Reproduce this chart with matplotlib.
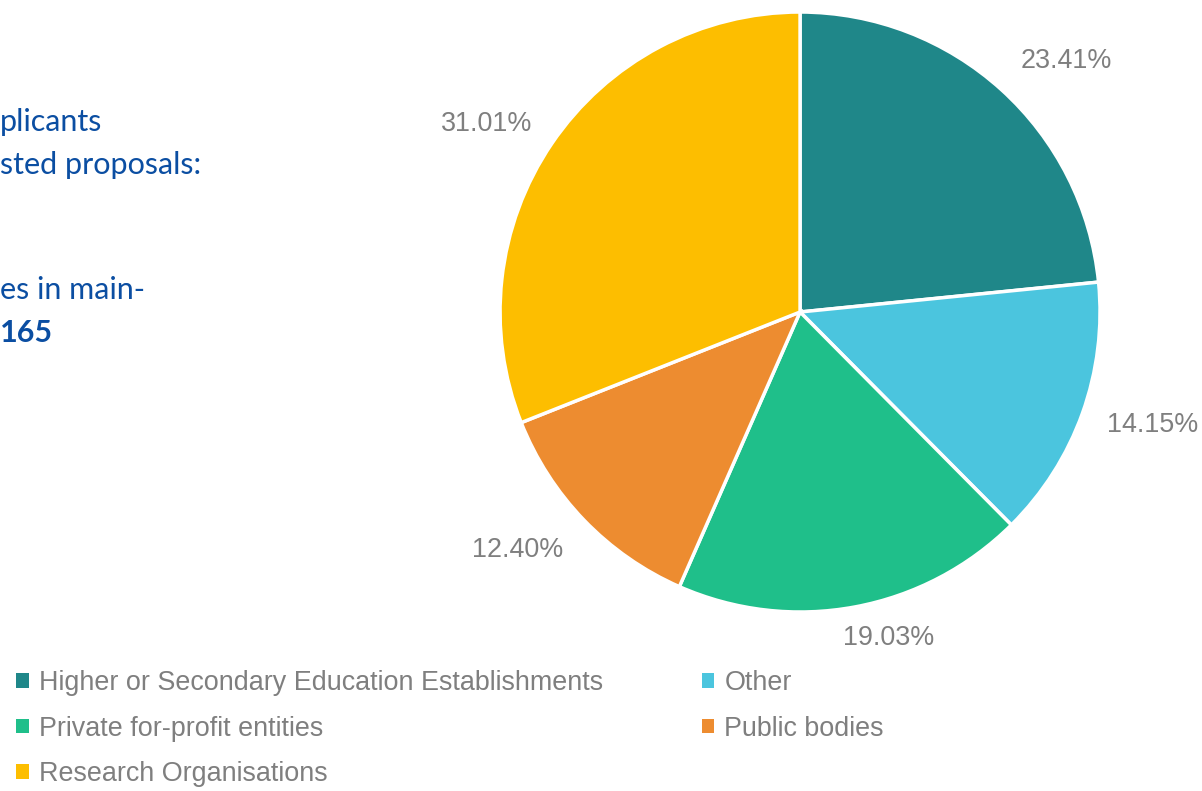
import matplotlib
matplotlib.use("Agg")
import matplotlib.pyplot as plt
from matplotlib.patches import Patch
import numpy as np

categories = ["Higher or Secondary Education Establishments", "Other",
              "Private for-profit entities", "Public bodies", "Research Organisations"]
values = [23.41, 14.15, 19.03, 12.40, 31.01]
colors = ["#1F8789", "#4BC5DE", "#1FBF8A", "#ED8C30", "#FDBE00"]
side_lines = ["plicants", "sted proposals:", "es in main-", "165"]

# label placement styling (angle offset in degrees, distance in radii)
label_offsets = [-4.5, 2.0, 4.6, -3.8, 3.2]
label_dists = [1.22, 1.233, 1.127, 1.23, 1.22]

fig = plt.figure(figsize=(12.02, 7.91), dpi=100)
ax = fig.add_axes([0.416, 0.2263, 0.4992, 0.7585])
wedges, texts, autotexts = ax.pie(
    values, colors=colors, startangle=90, counterclock=False, radius=1,
    wedgeprops=dict(edgecolor="white", linewidth=2.5),
    autopct=lambda p: f"{p:.2f}%", pctdistance=1.22,
    textprops=dict(color="#7F7F7F", fontsize=19.4, family="Liberation Sans"))
for w, t, off, d in zip(wedges, autotexts, label_offsets, label_dists):
    mid = np.deg2rad((w.theta1 + w.theta2) / 2 + off)
    t.set_position((d * np.cos(mid), d * np.sin(mid)))
ax.set_xlim(-1, 1)
ax.set_ylim(-1, 1)
ax.set_aspect("equal")
ax.axis("off")

# Left side text (cropped)
blue = "#0B4EA2"
ys = [122, 165, 290, 333]
for i, (s, y) in enumerate(zip(side_lines, ys)):
    fig.text(0.0, 1 - y / 791, s, color=blue, fontsize=22, family="Lato",
             va="center", fontweight="bold" if i == 3 else "normal")

order = [0, 2, 4, 1, 3]
handles = [Patch(facecolor=colors[i], edgecolor="none") for i in order]
labels = [categories[i] for i in order]
leg = fig.legend(handles, labels, ncol=2, loc="upper left",
                 bbox_to_anchor=(-0.0065, 1 - 646 / 791), frameon=False,
                 handlelength=0.45, handleheight=0.45, handletextpad=0.37,
                 columnspacing=3.7, labelspacing=0.72,
                 prop=dict(family="Liberation Sans", size=19.4))
for t in leg.get_texts():
    t.set_color("#7F7F7F")

fig.savefig("out.png", dpi=100)
